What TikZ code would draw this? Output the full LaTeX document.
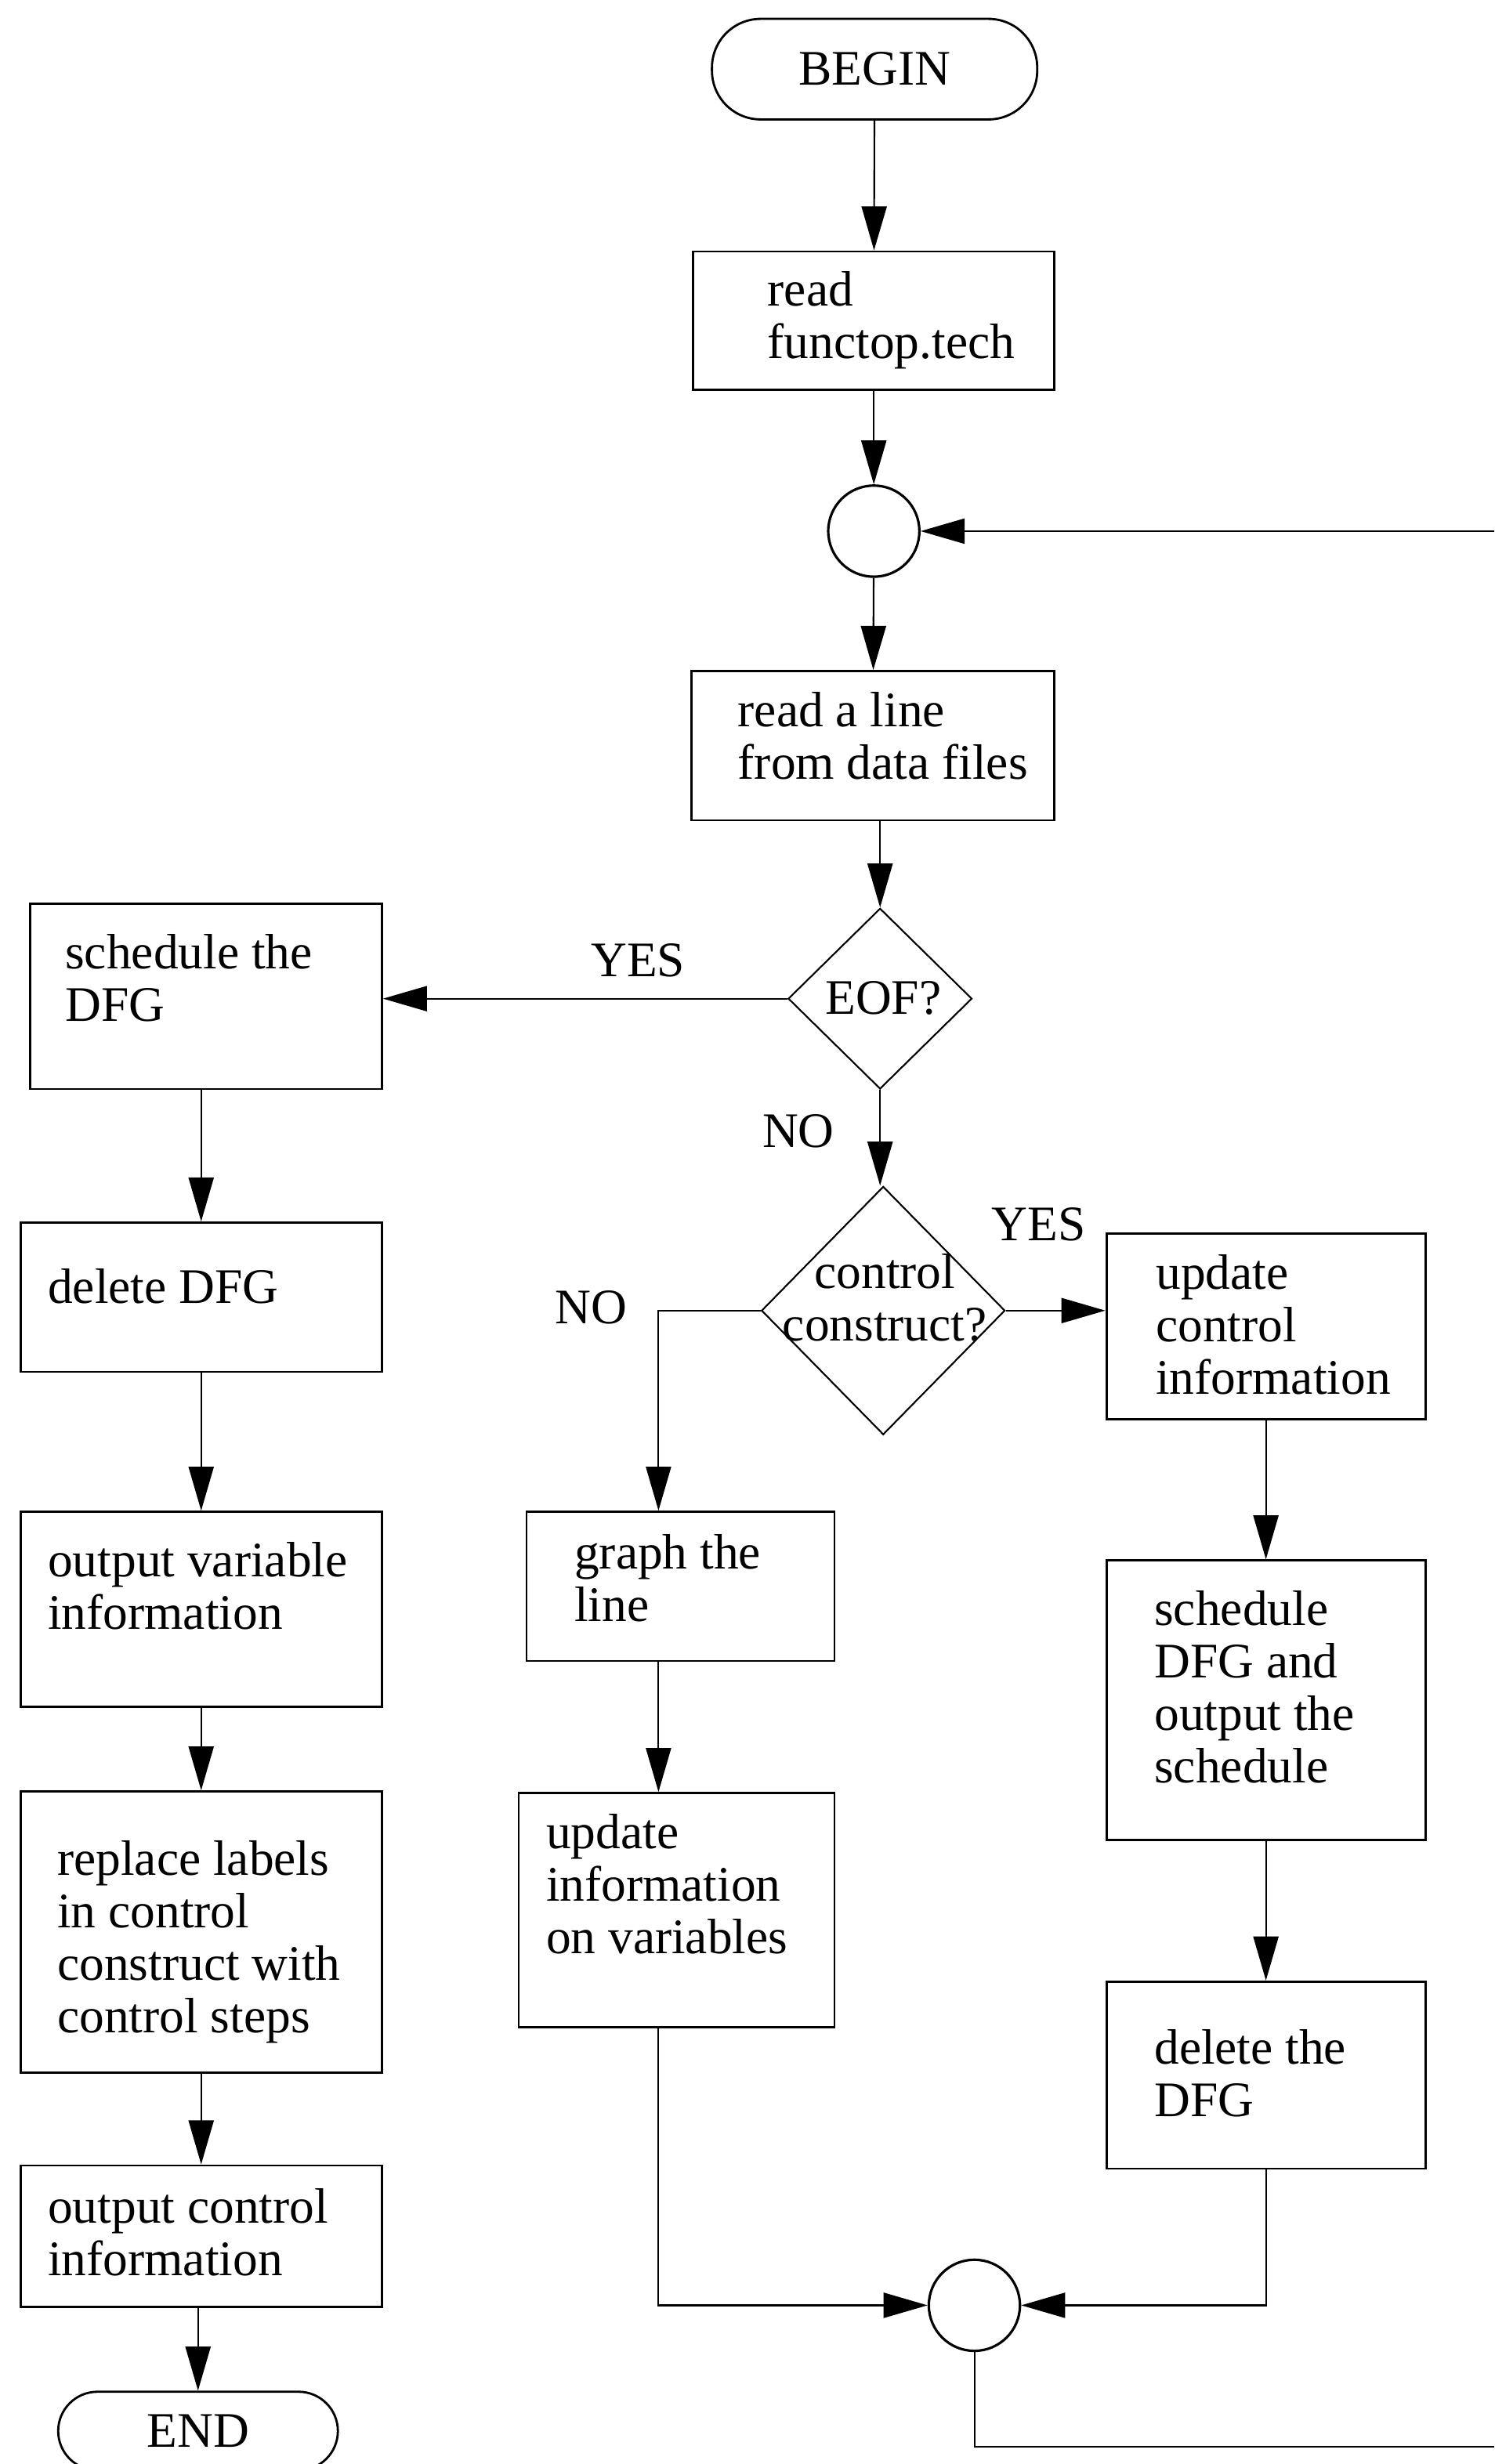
\documentclass[tikz,border=0pt]{standalone}
\usepackage{fontspec}
\setmainfont{Liberation Serif}
\usetikzlibrary{arrows.meta,shapes.geometric}
\tikzset{
  box/.style={draw,rectangle,inner sep=0pt,line width=0.8pt},
  term/.style={draw,rectangle,inner sep=0pt,line width=0.8pt},
  junct/.style={draw,circle,inner sep=0pt,minimum size=1.16cm,line width=0.9pt},
  test/.style={draw,diamond,inner sep=0pt},
  txt/.style={anchor=north west,align=left,inner sep=0pt},
  lbl/.style={inner sep=0pt},
  arr/.style={-{Triangle[length=5.6mm,width=3.2mm]}}
}
\begin{document}
\begin{tikzpicture}[x=0.02cm,y=-0.02cm,
    font=\fontsize{18}{19}\selectfont,
    line width=0.6pt]
  \useasboundingbox[fill=white] (0,0) rectangle (951,1568);
  \node[term,rounded corners=0.62cm,minimum width=4.14cm,minimum height=1.28cm] (begin) at (556.5,44) {BEGIN};
  \node[box,minimum width=4.6cm,minimum height=1.76cm] (read1) at (556,204) {};
  \node[junct] (junct1) at (556,338) {};
  \node[box,minimum width=4.62cm,minimum height=1.9cm] (read2) at (555.5,474.5) {};
  \node[test,minimum width=2.34cm,minimum height=2.3cm] (eof) at (560,635.5) {};
  \node[test,minimum width=3.1cm,minimum height=3.16cm] (ctrl) at (562,834) {};
  \node[box,minimum width=4.48cm,minimum height=2.36cm] (sched) at (131,634) {};
  \node[box,minimum width=4.6cm,minimum height=1.9cm] (del) at (128,825.5) {};
  \node[box,minimum width=4.6cm,minimum height=2.48cm] (outvar) at (128,1024) {};
  \node[box,minimum width=4.6cm,minimum height=3.58cm] (repl) at (128,1229.5) {};
  \node[box,minimum width=4.6cm,minimum height=1.8cm] (outctl) at (128,1423) {};
  \node[term,rounded corners=0.5cm,minimum width=3.56cm,minimum height=1cm] (end) at (126,1547) {END};
  \node[box,minimum width=4.06cm,minimum height=2.36cm] (updctl) at (805.5,844) {};
  \node[box,minimum width=3.92cm,minimum height=1.9cm] (graph) at (433,1009.5) {};
  \node[box,minimum width=4.02cm,minimum height=2.98cm] (updinfo) at (430.5,1215.5) {};
  \node[box,minimum width=4.06cm,minimum height=3.56cm] (schdfg) at (805.5,1082) {};
  \node[box,minimum width=4.06cm,minimum height=2.38cm] (deldfg) at (805.5,1320.5) {};
  \node[junct] (junct2) at (620,1467) {};
  \coordinate (rtop) at (951,338);
  \coordinate (rbot) at (951,1557);
  \coordinate (nox) at (419,0);

  \node[txt] (read1t) at (488,172) {read\\functop.tech};
  \node[txt] (read2t) at (469,440) {read a line\\from data files};
  \node[txt] (schedt) at (41,594) {schedule the\\DFG};
  \node[txt] (delt) at (30,807) {delete DFG};
  \node[txt] (outvart) at (30,981) {output variable\\information};
  \node[txt] (replt) at (36,1171) {replace labels\\in control\\construct with\\control steps};
  \node[txt] (outctlt) at (30,1392) {output control\\information};
  \node[txt] (updctlt) at (735,798) {update\\control\\information};
  \node[txt] (grapht) at (365,976) {graph the\\line};
  \node[txt] (updinfot) at (347,1154) {update\\information\\on variables};
  \node[txt] (schdfgt) at (734,1012) {schedule\\DFG and\\output the\\schedule};
  \node[txt] (deldfgt) at (734,1291) {delete the\\DFG};
  \node[lbl] (eoft) at (562,635) {EOF?};
  \node[lbl,align=center] (ctrlt) at (563,826) {control\\construct?};
  \node[lbl] (yes1) at (406,611) {YES};
  \node[lbl] (no1) at (508,720) {NO};
  \node[lbl] (yes2) at (661,779) {YES};
  \node[lbl] (no2) at (376,832) {NO};

  \draw[arr] (begin) -- (read1);
  \draw[arr] (read1) -- (junct1);
  \draw[arr] (rtop) -- (junct1);
  \draw[arr] (junct1) -- (read2);
  \draw[arr] (read2.south -| eof.north) -- (eof.north);
  \draw[arr] (eof.west) -- (eof.west -| sched.east);
  \draw[arr] (eof.south) -- (eof.south |- ctrl.north);
  \draw[arr] (ctrl.east) -- (ctrl.east -| updctl.west);
  \draw[arr] (ctrl.west) -| (graph.north -| nox);
  \draw[arr] (graph.south -| nox) -- (updinfo.north -| nox);
  \draw[arr] (updinfo.south -| nox) |- (junct2.west);
  \draw[arr] (updctl) -- (schdfg);
  \draw[arr] (schdfg) -- (deldfg);
  \draw[arr] (deldfg.south) |- (junct2.east);
  \draw (junct2.south) |- (rbot);
  \draw[arr] (del.north |- sched.south) -- (del.north);
  \draw[arr] (del) -- (outvar);
  \draw[arr] (outvar) -- (repl);
  \draw[arr] (repl) -- (outctl);
  \draw[arr] (end.north |- outctl.south) -- (end.north);
\end{tikzpicture}
\end{document}
